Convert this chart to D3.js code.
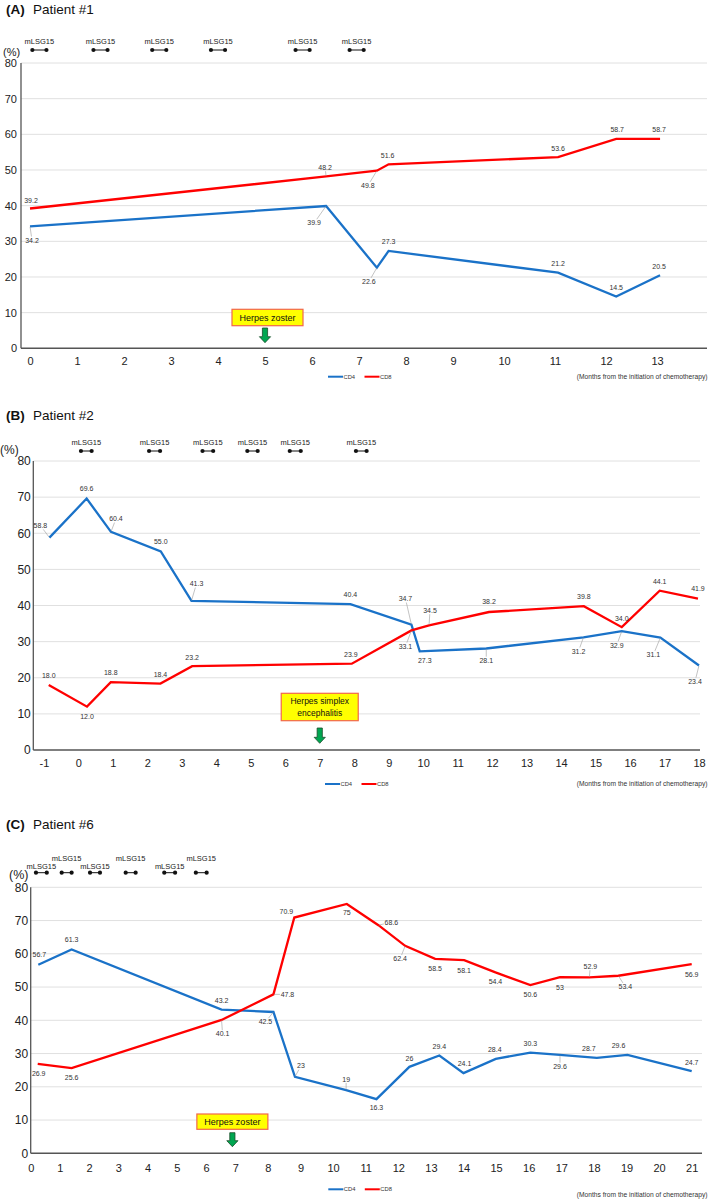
<!DOCTYPE html>
<html><head><meta charset="utf-8">
<script src="https://cdn.jsdelivr.net/npm/d3@7"></script>
<style>
body{margin:0;background:#fff}
svg{display:block;font-family:"Liberation Sans",Arial,sans-serif}
</style>
</head><body><script>
// ---------------- DATA ----------------
const yTicks=[0,10,20,30,40,50,60,70,80];
const monthTicksA=d3.range(0,14);
const monthTicksB=d3.range(-1,19);
const monthTicksC=d3.range(0,22);
const seriesNames=["CD4","CD8"];
const axisNote="(Months from the initiation of chemotherapy)";
const courseName="mLSG15";

// Patient #1
const monthsA=[0,6.3,7.38,7.63,11.06,12.2,13.06];
const cd4A=[34.2,39.9,22.6,27.3,21.2,14.5,20.5];
const cd8A=[39.2,48.2,49.8,51.6,53.6,58.7,58.7];
const coursesA=[[0.05,0.35],[1.35,1.65],[2.6,2.9],[3.85,4.15],[5.65,5.95],[6.8,7.1]];
const eventA={month:5,text:["Herpes zoster"]};

// Patient #2
const monthsB4=[-0.84,0.24,0.945,2.39,3.28,7.89,9.66,9.9,11.83,14.65,15.76,16.88,18.0];
const cd4B=[58.8,69.6,60.4,55.0,41.3,40.4,34.7,27.3,28.1,31.2,32.9,31.1,23.4];
const monthsB8=[-0.86,0.25,0.94,2.38,3.3,7.93,9.66,10.17,11.91,14.66,15.76,16.86,17.97];
const cd8B=[18.0,12.0,18.8,18.4,23.2,23.9,33.1,34.5,38.2,39.8,34.0,44.1,41.9];
const coursesB=[[0.075,0.385],[2.05,2.37],[3.6,3.91],[4.9,5.2],[6.13,6.45],[8.05,8.36]];
const eventB={month:7,text:["Herpes simplex","encephalitis"]};

// Patient #6
const monthsC4=[0.26,1.4,6.53,8.17,8.83,10.4,11.33,12.34,13.26,14.0,14.99,16.05,16.96,18.09,19.03,21.0];
const cd4C=[56.7,61.3,43.2,42.5,23,19,16.3,26,29.4,24.1,28.4,30.3,29.6,28.7,29.6,24.7];
const monthsC8=[0.24,1.4,6.53,8.17,8.81,10.42,11.39,12.21,13.13,14.02,14.98,16.05,16.96,17.86,18.75,21.0];
const cd8C=[26.9,25.6,40.1,47.8,70.9,75,68.6,62.4,58.5,58.1,54.4,50.6,53,52.9,53.4,56.9];
const coursesC=[[0.18,0.55],[1.06,1.4],[2.03,2.37],[3.25,3.59],[4.57,4.94],[5.65,6.02]];
const eventC={month:6.9,text:["Herpes zoster"]};

// ---------------- LAYOUT (label placement: dx, dy, leader) ----------------
const offA4=[[2,14,1],[-12,17,1],[-8,14,1],[0,-9,0],[0,-9,0],[0,-9,0],[-1,-9,0]];
const offA8=[[1,-8,0],[-1,-9,1],[-9,15,1],[-1,-9,0],[0,-9,0],[1,-9,0],[-1,-9,0]];
const offB4=[[-9,-12,1],[0,-10,0],[5,-13,1],[0,-9.5,0],[5,-17,1],[0,-10,0],[-6,-26,1],[5,9,0],[0,12,1],[-5,14,1],[-5,14,1],[-7,17,1],[-4,16,1]];
const offB8=[[0,-9,0],[0,10,0],[0,-9.5,0],[0,-9,0],[0,-9,0],[-1,-9.5,0],[-6,16,1],[1,-15,1],[0,-10,0],[0,-9.6,0],[0,-9,0],[0,-9,0],[0,-9.7,0]];
const offC4=[[1,-10,0],[0,-9.5,0],[0,-9,0],[-8,10,1],[6,-11,1],[0,-11,1],[0,8,0],[0,-8.5,0],[0,-8.7,0],[1,-9.3,0],[-1,-9,0],[0,-9.4,0],[0,11.7,1],[-8,-9,0],[-9,-9,0],[0,-8.7,0]];
const offC8=[[1,9.3,0],[0,9.4,0],[1,14,1],[14,0,1],[-8,-6,0],[0,9,0],[13,-3,1],[-5,13,1],[0,9.3,0],[0,10,0],[0,9,0],[0,9,0],[0,10,0],[1,-11,1],[7,11,1],[0,10,0]];

const colors={CD4:"#1a72c8",CD8:"#ff0000"};

const panels=[
 {letter:"(A)",title:"Patient #1",titleY:14,
  m4:monthsA,v4:cd4A,m8:monthsA,v8:cd8A,off4:offA4,off8:offA8,fmt:d=>d.toFixed(1),
  courses:coursesA,courseLabelY:[41,41],levels:[0,0,0,0,0,0],dumbY:50,
  event:eventA,boxDx:2.5,boxW:71,boxY:309.3,boxH:16.4,boxFont:9,arrowY:[328,342.7],
  ticks:monthTicksA,xDomain:[0,9,13],xRange:[30,453,657],yRange:[348.3,63],
  axisX:21,gridRight:707,yFont:11,yPad:4,xTickDy:12.7,pctX:3,pctY:52,pctFont:11,
  legendX:328,legendY:376.7,noteY:377},
 {letter:"(B)",title:"Patient #2",titleY:420,
  m4:monthsB4,v4:cd4B,m8:monthsB8,v8:cd8B,off4:offB4,off8:offB8,fmt:d=>d.toFixed(1),
  courses:coursesB,courseLabelY:[442.7,442.7],levels:[0,0,0,0,0,0],dumbY:451,
  event:eventB,boxDx:0,boxW:77,boxY:693.3,boxH:27.4,boxFont:8.5,arrowY:[728,743.3],
  ticks:monthTicksB,xDomain:[-1,18],xRange:[43.9,699],yRange:[750,461],
  axisX:33.3,gridRight:700,yFont:12,yPad:2.5,xTickDy:13.3,pctX:0,pctY:450,pctFont:12,
  legendX:325,legendY:784,noteY:784},
 {letter:"(C)",title:"Patient #6",titleY:829,
  m4:monthsC4,v4:cd4C,m8:monthsC8,v8:cd8C,off4:offC4,off8:offC8,fmt:d=>String(d),
  courses:coursesC,courseLabelY:[858.3,866],levels:[1,0,1,0,1,0],dumbY:872.7,
  event:eventC,boxDx:0,boxW:71,boxY:1114,boxH:15.3,boxFont:9,arrowY:[1132.7,1146.7],
  ticks:monthTicksC,xDomain:[0,7,21],xRange:[30.7,235.3,691.7],yRange:[1153.3,887.3],
  axisX:30.7,gridRight:702,yFont:12,yPad:2.5,xTickDy:15,pctX:9,pctY:875,pctFont:12.5,
  legendX:328.3,legendY:1189.3,noteY:1194.3}
];

// ---------------- DRAW ----------------
const W=709,H=1199;
const svg=d3.select("body").append("svg").attr("width",W).attr("height",H);
const FONT='"Liberation Sans",Arial,sans-serif';

function drawPanel(p){
  const x=d3.scaleLinear().domain(p.xDomain).range(p.xRange);
  const y=d3.scaleLinear().domain([0,80]).range(p.yRange);
  const g=svg.append("g");

  // title
  const t=g.append("text").attr("y",p.titleY).attr("font-size",13.5).attr("fill","#111");
  t.append("tspan").attr("x",6).attr("font-weight","bold").text(p.letter);
  t.append("tspan").attr("x",33).text(p.title);

  // gridlines
  g.selectAll("line.grid").data(yTicks.filter(d=>d>0)).join("line")
    .attr("x1",p.axisX).attr("x2",p.gridRight)
    .attr("y1",d=>y(d)).attr("y2",d=>y(d))
    .attr("stroke","#e0e0e0").attr("stroke-width",1);

  // axis lines
  g.append("line").attr("x1",p.axisX).attr("x2",p.axisX).attr("y1",y(80)).attr("y2",y(0))
    .attr("stroke","#555").attr("stroke-width",1.3);
  g.append("line").attr("x1",p.axisX).attr("x2",p.gridRight).attr("y1",y(0)).attr("y2",y(0))
    .attr("stroke","#555").attr("stroke-width",1.5);

  // y axis labels
  const ya=g.append("g").attr("transform",`translate(${p.axisX},0)`)
    .call(d3.axisLeft(y).tickValues(yTicks).tickSize(0).tickPadding(p.yPad));
  ya.attr("font-family",FONT).attr("font-size",p.yFont);
  ya.select(".domain").remove();
  ya.selectAll("text").attr("fill","#222");

  // x axis labels
  const xa=g.append("g").attr("transform",`translate(0,${y(0)})`)
    .call(d3.axisBottom(x).tickValues(p.ticks).tickSize(0).tickFormat(d=>String(d)));
  xa.attr("font-family",FONT).attr("font-size",11);
  xa.select(".domain").remove();
  xa.selectAll("text").attr("y",p.xTickDy).attr("dy","0.35em").attr("fill","#222");

  // (%)
  g.append("text").attr("x",p.pctX).attr("y",p.pctY).attr("dy","0.35em")
    .attr("font-size",p.pctFont).attr("fill","#222").text("(%)");

  // courses
  p.courses.forEach((c,i)=>{
    const x0=x(c[0]),x1=x(c[1]),cy=p.dumbY;
    g.append("line").attr("x1",x0).attr("x2",x1).attr("y1",cy).attr("y2",cy)
      .attr("stroke","#111").attr("stroke-width",1);
    g.append("circle").attr("cx",x0).attr("cy",cy).attr("r",2.1).attr("fill","#111");
    g.append("circle").attr("cx",x1).attr("cy",cy).attr("r",2.1).attr("fill","#111");
    g.append("text").attr("x",(x0+x1)/2).attr("y",p.courseLabelY[p.levels[i]]).attr("dy","0.35em")
      .attr("text-anchor","middle").attr("font-size",7.5).attr("fill","#222").text(courseName);
  });

  // series
  const series=[
    {name:"CD4",m:p.m4,v:p.v4,off:p.off4},
    {name:"CD8",m:p.m8,v:p.v8,off:p.off8}
  ];
  const line=d3.line().x(d=>x(d[0])).y(d=>y(d[1]));
  series.forEach(s=>{
    g.append("path").datum(d3.zip(s.m,s.v)).attr("d",line)
      .attr("fill","none").attr("stroke",colors[s.name]).attr("stroke-width",2.3)
      .attr("stroke-linejoin","miter");
  });
  series.forEach(s=>{
    s.v.forEach((v,i)=>{
      const px=x(s.m[i]),py=y(v),o=s.off[i];
      const lx=px+o[0],ly=py+o[1];
      if(o[2]){
        const vx=px-lx,vy=py-ly,L=Math.hypot(vx,vy)||1;
        const ux=vx/L,uy=vy/L;
        const r=Math.min(Math.abs(ux)>1e-6?7.5/Math.abs(ux):1e9,Math.abs(uy)>1e-6?3.8/Math.abs(uy):1e9);
        g.append("line").attr("x1",lx+ux*r).attr("y1",ly+uy*r).attr("x2",px-ux*0.5).attr("y2",py-uy*0.5)
          .attr("stroke","#9a9a9a").attr("stroke-width",0.6);
      }
      g.append("text").attr("x",lx).attr("y",ly).attr("dy","0.35em").attr("text-anchor","middle")
        .attr("font-size",7).attr("fill","#333").text(p.fmt(v));
    });
  });

  // event annotation
  const ex=x(p.event.month);
  const bx=ex+p.boxDx;
  g.append("rect").attr("x",bx-p.boxW/2).attr("y",p.boxY).attr("width",p.boxW).attr("height",p.boxH)
    .attr("fill","#ffff00").attr("stroke","#f2674b").attr("stroke-width",1.2);
  const n=p.event.text.length, lh=p.boxFont*1.35;
  p.event.text.forEach((tx,i)=>{
    g.append("text").attr("x",bx).attr("y",p.boxY+p.boxH/2+(i-(n-1)/2)*lh).attr("dy","0.35em")
      .attr("text-anchor","middle").attr("font-size",p.boxFont).attr("fill","#111").text(tx);
  });
  const a0=p.arrowY[0],a1=p.arrowY[1],hh=6;
  g.append("path").attr("d",`M${ex-2.6},${a0}L${ex+2.6},${a0}L${ex+2.6},${a1-hh}L${ex+5.6},${a1-hh}L${ex},${a1}L${ex-5.6},${a1-hh}L${ex-2.6},${a1-hh}Z`)
    .attr("fill","#00a651").attr("stroke","#1b4d2b").attr("stroke-width",0.8);

  // legend
  seriesNames.forEach((nm,i)=>{
    const lx=p.legendX+i*36.5;
    g.append("line").attr("x1",lx).attr("x2",lx+15).attr("y1",p.legendY).attr("y2",p.legendY)
      .attr("stroke",colors[nm]).attr("stroke-width",2);
    g.append("text").attr("x",lx+15.5).attr("y",p.legendY).attr("dy","0.35em")
      .attr("font-size",5.8).attr("fill","#333").text(nm);
  });
  g.append("text").attr("x",707.5).attr("y",p.noteY).attr("dy","0.35em").attr("text-anchor","end")
    .attr("font-size",6.7).attr("fill","#333").text(axisNote);
}

panels.forEach(drawPanel);
</script></body></html>
